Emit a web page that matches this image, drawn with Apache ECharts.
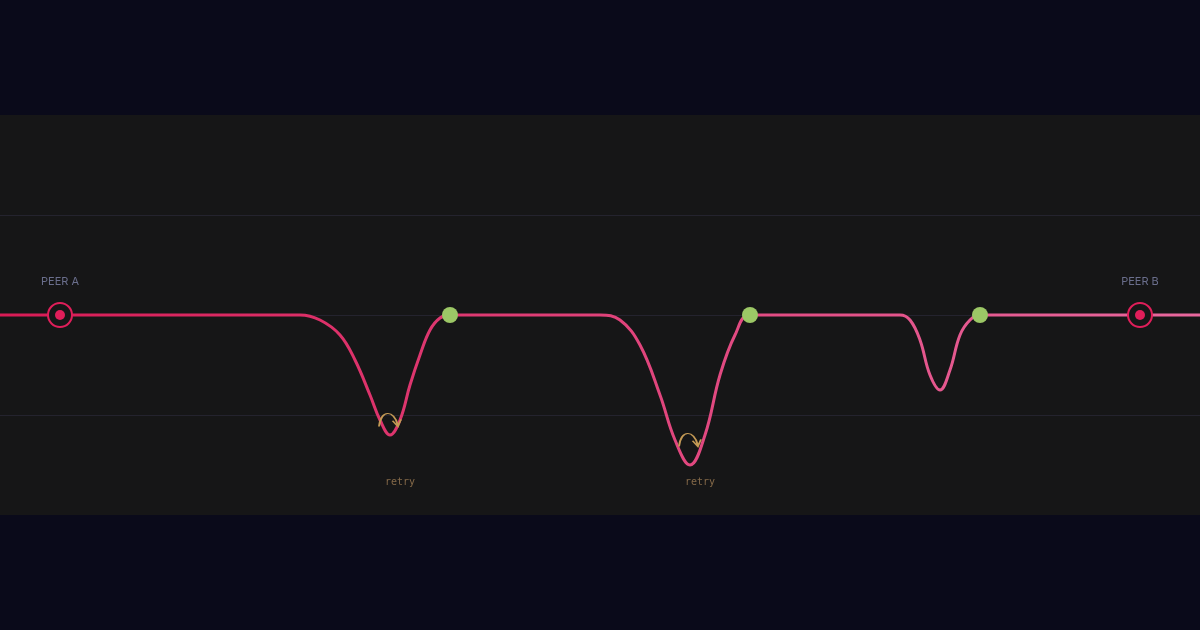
<!DOCTYPE html><html><head><meta charset="utf-8"><script src="https://cdn.jsdelivr.net/npm/echarts@6/dist/echarts.min.js"></script>
<style>html,body{margin:0;background:#0a0a1a}#c{width:1200px;height:630px}</style></head><body><div id="c"></div><script>
const pathX=[0,60,300,320,340,355,370,380,390,400,410,420,430,440,450,600,620,640,660,675,690,705,720,735,750,900,910,920,930,940,950,960,970,980,1140,1200];
const pathY=[0,0,0,-0.05,-0.2,-0.45,-0.8,-1.05,-1.2,-1.05,-0.7,-0.4,-0.15,-0.03,0,0,-0.05,-0.3,-0.8,-1.25,-1.5,-1.2,-0.6,-0.2,0,0,-0.05,-0.25,-0.6,-0.75,-0.55,-0.2,-0.05,0,0,0];
const ackX=[450,750,980];
const peers=[{name:'PEER A',x:60},{name:'PEER B',x:1140}];
const retries=[{x:390,y:-1.05},{x:690,y:-1.25}];
const chart=echarts.init(document.getElementById('c'));
const arrow='path://M1,13 C3,1 15,1 19,12 M14,9 L19,13 L22,8';
chart.setOption({
 backgroundColor:'#0a0a1a',animation:false,
 grid:{left:0,right:0,top:115,bottom:115,show:true,backgroundColor:'#161617',borderWidth:0},
 xAxis:{type:'value',min:0,max:1200,show:false},
 yAxis:{type:'value',min:-2,max:2,interval:1,axisLabel:{show:false},axisLine:{show:false},axisTick:{show:false},splitLine:{showMinLine:false,showMaxLine:false,lineStyle:{color:'#24232e',width:1}}},
 series:[
  {type:'line',smooth:0.4,symbol:'none',data:pathX.map((x,i)=>[x,pathY[i]]),
   lineStyle:{width:3,color:new echarts.graphic.LinearGradient(0,0,1,0,[{offset:0,color:'#d81b55'},{offset:1,color:'#e8689e'}])},z:2},
  {type:'scatter',data:ackX.map(x=>[x,0]),symbolSize:16,itemStyle:{color:'#9cc766',opacity:1},z:4},
  {type:'scatter',data:peers.map(p=>[p.x,0]),symbolSize:24,itemStyle:{color:'#161617',borderColor:'#e01e5a',borderWidth:2,opacity:1},z:4,
   label:{show:true,position:'top',distance:15,formatter:p=>peers[p.dataIndex].name,color:'#6a6e8c',fontSize:11,fontFamily:'Inter'}},
  {type:'scatter',data:peers.map(p=>[p.x,0]),symbolSize:10,itemStyle:{color:'#e01e5a',opacity:1},z:5},
  {type:'scatter',data:retries.map(r=>[r.x,r.y]),symbol:arrow,symbolSize:[22,13],itemStyle:{color:'rgba(0,0,0,0)',borderColor:'#c49a55',borderWidth:1.5,opacity:1},z:6},
  {type:'scatter',data:retries.map(r=>[r.x+10,-1.67]),symbolSize:0,z:6,
   label:{show:true,position:'inside',formatter:'retry',color:'#a07e55',fontSize:10,fontFamily:'DejaVu Sans Mono'}}
 ]
});
</script></body></html>
